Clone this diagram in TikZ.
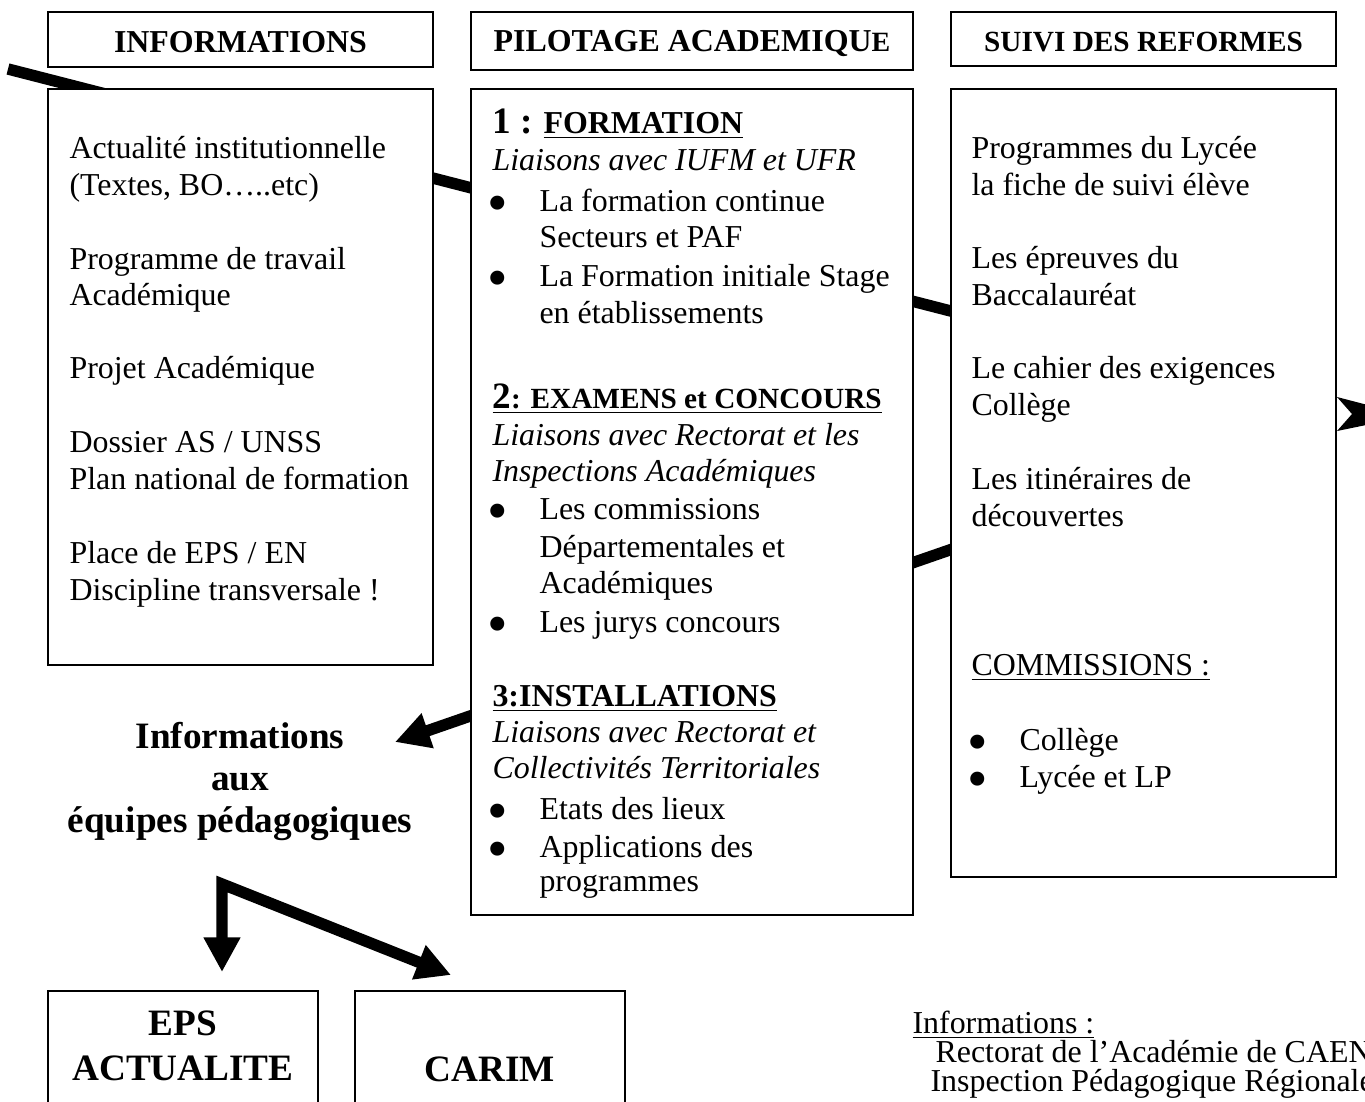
\documentclass[tikz,border=0pt]{standalone}
\usepackage{fontspec}
\setmainfont{Liberation Serif}
\usetikzlibrary{arrows.meta,fit}
\newcommand\bul{\llap{\smash{\raisebox{-4.3pt}{\fontsize{22}{22}\selectfont\textbullet}}\hspace{11.7pt}}}

\begin{document}
\begin{tikzpicture}[
    x=0.376pt, y=-0.376pt,
    box/.style={draw=black, fill=white, line width=0.8pt, inner sep=0pt},
    head/.style={inner sep=0pt, font=\fontsize{12}{14}\selectfont\bfseries},
    txt/.style={anchor=base west, inner sep=0pt, font=\fontsize{12}{14}\selectfont},
    btxt/.style={txt, font=\fontsize{12}{14}\selectfont\bfseries},
    ital/.style={txt, font=\fontsize{12}{14}\selectfont\itshape},
    bigtxt/.style={anchor=base, inner sep=0pt, font=\fontsize{14}{16}\selectfont\bfseries},
    fat/.style={line width=4.3pt},
    arrow/.style={fat, -{Triangle[length=13pt, width=13pt]}},
    twoway/.style={fat, line join=miter, {Triangle[length=13pt, width=13pt]}-{Triangle[length=13pt, width=13pt]}}
]

\useasboundingbox (0,0) rectangle (1365,1101);
\clip (0,0) rectangle (1365,1101);

\coordinate (lineA) at (8,69);
\coordinate (lineB) at (1200,375);
\coordinate (backA) at (1143,483);
\coordinate (infoTip) at (395,742);
\draw[fat] (lineA) -- (lineB);
\draw[arrow] (backA) -- (infoTip);

\node[box, fit={(48,12) (433,67)}] (hInfo) {};
\node[box, fit={(471,12) (913,70)}] (hPilot) {};
\node[box, fit={(951,12) (1336,66)}] (hSuivi) {};
\node[head] (tInfo) at ([yshift=-1pt]hInfo.center) {INFORMATIONS};
\node[head] (tPilot) at ([yshift=-1pt]hPilot.center) {PILOTAGE ACADEMIQU{\fontsize{10.5}{12}\selectfont E}};
\node[head, font=\fontsize{11}{13}\selectfont\bfseries] (tSuivi) at ([yshift=-1pt]hSuivi.center) {SUIVI DES REFORMES};

\node[box, fit={(48,89) (433,665)}] (infoBox) {};
\node[box, fit={(471,89) (913,915)}] (pilotBox) {};
\node[box, fit={(951,89) (1336,877)}] (suiviBox) {};
\node[box, fit={(48,991) (318,1160)}] (epsBox) {};
\node[box, fit={(355,991) (625,1160)}] (carimBox) {};

\node[txt] (i1) at (69,158) {Actualité institutionnelle};
\node[txt] (i2) at (69,195) {(Textes, BO…..etc)};
\node[txt] (i3) at (69,269) {Programme de travail};
\node[txt] (i4) at (69,305) {Académique};
\node[txt] (i5) at (69,378) {Projet Académique};
\node[txt] (i6) at (69,452) {Dossier AS / UNSS};
\node[txt] (i7) at (69,489) {Plan national de formation};
\node[txt] (i8) at (69,563) {Place de EPS / EN};
\node[txt] (i9) at (69,600) {Discipline transversale !};

\node[btxt] (p1) at (492,133) {{\fontsize{14}{16}\selectfont 1 :} \underline{FORMATION}};
\node[ital] (p2) at (492,170) {Liaisons avec IUFM et UFR};
\node[txt] (p3) at (539,211) {\bul La formation continue};
\node[txt] (p4) at (539,247) {Secteurs et PAF};
\node[txt] (p5) at (539,286) {\bul La Formation initiale Stage};
\node[txt] (p6) at (539,323) {en établissements};
\node[btxt, font=\fontsize{11}{13}\selectfont\bfseries] (p7) at (492,408) {\underline{{\fontsize{14}{16}\selectfont 2}: EXAMENS et CONCOURS}};
\node[ital] (p8) at (492,445) {Liaisons avec Rectorat et les};
\node[ital] (p9) at (492,481) {Inspections Académiques};
\node[txt] (p10) at (539,519) {\bul Les commissions};
\node[txt] (p11) at (539,557) {Départementales et};
\node[txt] (p12) at (539,593) {Académiques};
\node[txt] (p13) at (539,632) {\bul Les jurys concours};
\node[btxt] (p14) at (492,706) {\underline{3:INSTALLATIONS}};
\node[ital] (p15) at (492,742) {Liaisons avec Rectorat et};
\node[ital] (p16) at (492,778) {Collectivités Territoriales};
\node[txt] (p17) at (539,819) {\bul Etats des lieux};
\node[txt] (p18) at (539,857) {\bul Applications des};
\node[txt] (p19) at (539,891) {programmes};

\node[txt] (s1) at (971,158) {Programmes du Lycée};
\node[txt] (s2) at (971,195) {la fiche de suivi élève};
\node[txt] (s3) at (971,268) {Les épreuves du};
\node[txt] (s4) at (971,305) {Baccalauréat};
\node[txt] (s5) at (971,378) {Le cahier des exigences};
\node[txt] (s6) at (971,415) {Collège};
\node[txt] (s7) at (971,489) {Les itinéraires de};
\node[txt] (s8) at (971,526) {découvertes};
\node[txt] (s9) at (971,675) {\underline{COMMISSIONS :}};
\node[txt] (s10) at (1019,750) {\bul Collège};
\node[txt] (s11) at (1019,787) {\bul Lycée et LP};

\node[bigtxt] (eq1) at (240,748) {Informations};
\node[bigtxt] (eq2) at (240,790) {aux};
\node[bigtxt] (eq3) at (240,832) {équipes pédagogiques};

\node[bigtxt] (eps1) at (183,1035) {EPS};
\node[bigtxt] (eps2) at (183,1080) {ACTUALITE};
\node[bigtxt] (carim) at (490,1081) {CARIM};

\node[txt] (note0) at (912,1033) {\underline{Informations :}};
\node[txt] (note1) at (935,1062) {Rectorat de l’Académie de CAEN};
\node[txt] (note2) at (930,1091) {Inspection Pédagogique Régionale};

\coordinate (chevTop) at (1337,397);
\coordinate (chevTip) at (1410,416);
\coordinate (chevBot) at (1337,431);
\coordinate (chevIn) at (1352,414);
\fill (chevTop) -- (chevTip) -- (chevBot) -- (chevIn) -- cycle;

\coordinate (split) at (222,884);
\coordinate (epsTip) at (222,972);
\coordinate (carimTip) at (451,975);
\draw[twoway] (epsTip) -- (split) -- (carimTip);

\end{tikzpicture}
\end{document}
